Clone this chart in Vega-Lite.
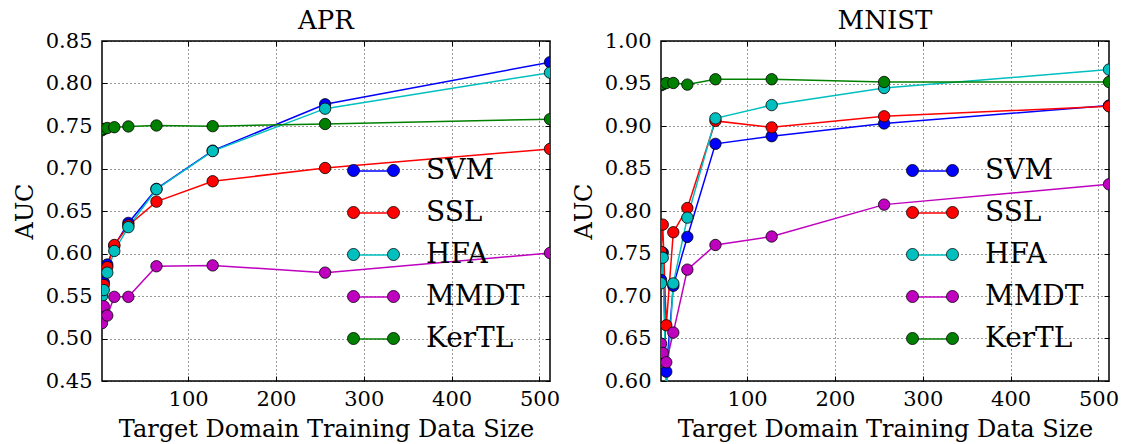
{
  "$schema": "https://vega.github.io/schema/vega-lite/v6.json",
  "padding": {"left": 12, "top": 7, "right": 0, "bottom": 0},
  "bounds": "flush",
  "spacing": 111,
  "config": {
    "font": "DejaVu Serif",
    "view": {"stroke": "#000", "strokeWidth": 1.5},
    "axis": {
      "labelFont": "DejaVu Serif", "labelFontSize": 21, "labelColor": "#000",
      "titleFont": "DejaVu Serif", "titleFontSize": 24, "titleFontWeight": "normal", "titleColor": "#000",
      "domain": false, "tickColor": "#000", "tickSize": -5, "tickWidth": 1,
      "gridColor": "#000", "gridDash": [1, 3], "gridWidth": 0.8, "gridOpacity": 1
    },
    "axisX": {"labelPadding": 12},
    "axisY": {"labelPadding": 15},
    "title": {"font": "DejaVu Serif", "fontSize": 26, "fontWeight": "normal", "color": "#000", "offset": -4},
    "legend": {"labelFont": "DejaVu Serif", "labelFontSize": 28, "labelColor": "#000", "padding": 0}
  },
  "datasets": {
    "apr": [
      {"x": 2, "method": "SVM", "auc": 0.560}, {"x": 4, "method": "SVM", "auc": 0.566}, {"x": 8, "method": "SVM", "auc": 0.587}, {"x": 16, "method": "SVM", "auc": 0.609}, {"x": 32, "method": "SVM", "auc": 0.636}, {"x": 64, "method": "SVM", "auc": 0.676}, {"x": 128, "method": "SVM", "auc": 0.721}, {"x": 256, "method": "SVM", "auc": 0.7755}, {"x": 512, "method": "SVM", "auc": 0.825},
      {"x": 2, "method": "SSL", "auc": 0.555}, {"x": 4, "method": "SSL", "auc": 0.563}, {"x": 8, "method": "SSL", "auc": 0.584}, {"x": 16, "method": "SSL", "auc": 0.610}, {"x": 32, "method": "SSL", "auc": 0.633}, {"x": 64, "method": "SSL", "auc": 0.661}, {"x": 128, "method": "SSL", "auc": 0.685}, {"x": 256, "method": "SSL", "auc": 0.7006}, {"x": 512, "method": "SSL", "auc": 0.723},
      {"x": 2, "method": "HFA", "auc": 0.550}, {"x": 4, "method": "HFA", "auc": 0.557}, {"x": 8, "method": "HFA", "auc": 0.5775}, {"x": 16, "method": "HFA", "auc": 0.603}, {"x": 32, "method": "HFA", "auc": 0.631}, {"x": 64, "method": "HFA", "auc": 0.6756}, {"x": 128, "method": "HFA", "auc": 0.7205}, {"x": 256, "method": "HFA", "auc": 0.7704}, {"x": 512, "method": "HFA", "auc": 0.8128},
      {"x": 2, "method": "MMDT", "auc": 0.518}, {"x": 4, "method": "MMDT", "auc": 0.538}, {"x": 8, "method": "MMDT", "auc": 0.527}, {"x": 16, "method": "MMDT", "auc": 0.549}, {"x": 32, "method": "MMDT", "auc": 0.549}, {"x": 64, "method": "MMDT", "auc": 0.585}, {"x": 128, "method": "MMDT", "auc": 0.586}, {"x": 256, "method": "MMDT", "auc": 0.5775}, {"x": 512, "method": "MMDT", "auc": 0.6006},
      {"x": 2, "method": "KerTL", "auc": 0.745}, {"x": 4, "method": "KerTL", "auc": 0.7465}, {"x": 8, "method": "KerTL", "auc": 0.7476}, {"x": 16, "method": "KerTL", "auc": 0.7486}, {"x": 32, "method": "KerTL", "auc": 0.7495}, {"x": 64, "method": "KerTL", "auc": 0.7506}, {"x": 128, "method": "KerTL", "auc": 0.7498}, {"x": 256, "method": "KerTL", "auc": 0.7524}, {"x": 512, "method": "KerTL", "auc": 0.758}
    ],
    "mnist": [
      {"x": 2, "method": "SVM", "auc": 0.719}, {"x": 4, "method": "SVM", "auc": 0.751}, {"x": 8, "method": "SVM", "auc": 0.611}, {"x": 16, "method": "SVM", "auc": 0.712}, {"x": 32, "method": "SVM", "auc": 0.7695}, {"x": 64, "method": "SVM", "auc": 0.879}, {"x": 128, "method": "SVM", "auc": 0.888}, {"x": 256, "method": "SVM", "auc": 0.903}, {"x": 512, "method": "SVM", "auc": 0.924},
      {"x": 2, "method": "SSL", "auc": 0.752}, {"x": 4, "method": "SSL", "auc": 0.784}, {"x": 8, "method": "SSL", "auc": 0.6655}, {"x": 16, "method": "SSL", "auc": 0.775}, {"x": 32, "method": "SSL", "auc": 0.8035}, {"x": 64, "method": "SSL", "auc": 0.906}, {"x": 128, "method": "SSL", "auc": 0.8984}, {"x": 256, "method": "SSL", "auc": 0.9114}, {"x": 512, "method": "SSL", "auc": 0.9232},
      {"x": 2, "method": "HFA", "auc": 0.715}, {"x": 4, "method": "HFA", "auc": 0.745}, {"x": 8, "method": "HFA", "auc": 0.585}, {"x": 16, "method": "HFA", "auc": 0.7148}, {"x": 32, "method": "HFA", "auc": 0.7922}, {"x": 64, "method": "HFA", "auc": 0.909}, {"x": 128, "method": "HFA", "auc": 0.9246}, {"x": 256, "method": "HFA", "auc": 0.9447}, {"x": 512, "method": "HFA", "auc": 0.9664},
      {"x": 2, "method": "MMDT", "auc": 0.644}, {"x": 4, "method": "MMDT", "auc": 0.633}, {"x": 8, "method": "MMDT", "auc": 0.622}, {"x": 16, "method": "MMDT", "auc": 0.657}, {"x": 32, "method": "MMDT", "auc": 0.731}, {"x": 64, "method": "MMDT", "auc": 0.760}, {"x": 128, "method": "MMDT", "auc": 0.770}, {"x": 256, "method": "MMDT", "auc": 0.8075}, {"x": 512, "method": "MMDT", "auc": 0.8314},
      {"x": 2, "method": "KerTL", "auc": 0.948}, {"x": 4, "method": "KerTL", "auc": 0.949}, {"x": 8, "method": "KerTL", "auc": 0.9505}, {"x": 16, "method": "KerTL", "auc": 0.9506}, {"x": 32, "method": "KerTL", "auc": 0.9487}, {"x": 64, "method": "KerTL", "auc": 0.955}, {"x": 128, "method": "KerTL", "auc": 0.955}, {"x": 256, "method": "KerTL", "auc": 0.9518}, {"x": 512, "method": "KerTL", "auc": 0.9518}
    ]
  },
  "resolve": {
    "scale": {"y": "independent", "color": "independent", "fill": "independent"},
    "legend": {"color": "independent", "fill": "independent"}
  },
  "hconcat": [
    {
      "title": "APR",
      "width": 448, "height": 340,
      "data": {"name": "apr"},
      "resolve": {"axis": {"x": "independent", "y": "independent"}},
      "layer": [
        {
          "mark": {"type": "line", "strokeWidth": 1.5, "clip": true},
          "encoding": {
            "x": {"field": "x", "type": "quantitative", "scale": {"domain": [2, 512], "nice": false, "zero": false},
                  "axis": {"values": [100, 200, 300, 400, 500], "title": "Target Domain Training Data Size", "titlePadding": 8}},
            "y": {"field": "auc", "type": "quantitative", "scale": {"domain": [0.45, 0.85], "nice": false, "zero": false},
                  "axis": {"values": [0.45, 0.5, 0.55, 0.6, 0.65, 0.7, 0.75, 0.8, 0.85], "format": ".2f", "title": "AUC", "titlePadding": 8}},
            "color": {"field": "method", "type": "nominal",
                      "scale": {"domain": ["SVM", "SSL", "HFA", "MMDT", "KerTL"], "range": ["#0000ff", "#ff0000", "#00bfbf", "#bf00bf", "#008000"]},
                      "legend": {"orient": "none", "legendX": 256, "legendY": 114, "title": null,
                                 "symbolType": "M -1.333 0 L 1.333 0", "symbolSize": 900, "symbolStrokeWidth": 1.5,
                                 "labelOffset": 37, "rowPadding": 12, "labelOpacity": 0}}
          }
        },
        {
          "mark": {"type": "circle", "size": 130, "stroke": "#000", "strokeWidth": 0.8, "opacity": 1, "clip": true},
          "encoding": {
            "x": {"field": "x", "type": "quantitative",
                  "axis": {"orient": "top", "values": [100, 200, 300, 400, 500], "labels": false, "grid": false, "title": null}},
            "y": {"field": "auc", "type": "quantitative",
                  "axis": {"orient": "right", "values": [0.45, 0.5, 0.55, 0.6, 0.65, 0.7, 0.75, 0.8, 0.85], "labels": false, "grid": false, "title": null}},
            "fill": {"field": "method", "type": "nominal", "sort": ["SVM", "SSL", "HFA", "MMDT", "KerTL"],
                     "scale": {"range": ["#0000ff", "#ff0000", "#00bfbf", "#bf00bf", "#008000"]},
                     "legend": {"orient": "none", "legendX": 256, "legendY": 114, "title": null,
                                "symbolType": "M -0.933 0 A 0.4 0.4 0 1 1 -1.733 0 A 0.4 0.4 0 1 1 -0.933 0 Z M 1.733 0 A 0.4 0.4 0 1 1 0.933 0 A 0.4 0.4 0 1 1 1.733 0 Z",
                                "symbolSize": 900, "symbolStrokeColor": "#000", "symbolStrokeWidth": 0.8, "symbolOpacity": 1,
                                "labelOffset": 37, "rowPadding": 12}}
          }
        }
      ]
    },
    {
      "title": "MNIST",
      "width": 448, "height": 340,
      "data": {"name": "mnist"},
      "resolve": {"axis": {"x": "independent", "y": "independent"}},
      "layer": [
        {
          "mark": {"type": "line", "strokeWidth": 1.5, "clip": true},
          "encoding": {
            "x": {"field": "x", "type": "quantitative", "scale": {"domain": [2, 512], "nice": false, "zero": false},
                  "axis": {"values": [100, 200, 300, 400, 500], "title": "Target Domain Training Data Size", "titlePadding": 8}},
            "y": {"field": "auc", "type": "quantitative", "scale": {"domain": [0.6, 1.0], "nice": false, "zero": false},
                  "axis": {"values": [0.6, 0.65, 0.7, 0.75, 0.8, 0.85, 0.9, 0.95, 1.0], "format": ".2f", "title": "AUC", "titlePadding": 8}},
            "color": {"field": "method", "type": "nominal",
                      "scale": {"domain": ["SVM", "SSL", "HFA", "MMDT", "KerTL"], "range": ["#0000ff", "#ff0000", "#00bfbf", "#bf00bf", "#008000"]},
                      "legend": {"orient": "none", "legendX": 256, "legendY": 114, "title": null,
                                 "symbolType": "M -1.333 0 L 1.333 0", "symbolSize": 900, "symbolStrokeWidth": 1.5,
                                 "labelOffset": 37, "rowPadding": 12, "labelOpacity": 0}}
          }
        },
        {
          "mark": {"type": "circle", "size": 130, "stroke": "#000", "strokeWidth": 0.8, "opacity": 1, "clip": true},
          "encoding": {
            "x": {"field": "x", "type": "quantitative",
                  "axis": {"orient": "top", "values": [100, 200, 300, 400, 500], "labels": false, "grid": false, "title": null}},
            "y": {"field": "auc", "type": "quantitative",
                  "axis": {"orient": "right", "values": [0.6, 0.65, 0.7, 0.75, 0.8, 0.85, 0.9, 0.95, 1.0], "labels": false, "grid": false, "title": null}},
            "fill": {"field": "method", "type": "nominal", "sort": ["SVM", "SSL", "HFA", "MMDT", "KerTL"],
                     "scale": {"range": ["#0000ff", "#ff0000", "#00bfbf", "#bf00bf", "#008000"]},
                     "legend": {"orient": "none", "legendX": 256, "legendY": 114, "title": null,
                                "symbolType": "M -0.933 0 A 0.4 0.4 0 1 1 -1.733 0 A 0.4 0.4 0 1 1 -0.933 0 Z M 1.733 0 A 0.4 0.4 0 1 1 0.933 0 A 0.4 0.4 0 1 1 1.733 0 Z",
                                "symbolSize": 900, "symbolStrokeColor": "#000", "symbolStrokeWidth": 0.8, "symbolOpacity": 1,
                                "labelOffset": 37, "rowPadding": 12}}
          }
        }
      ]
    }
  ]
}
